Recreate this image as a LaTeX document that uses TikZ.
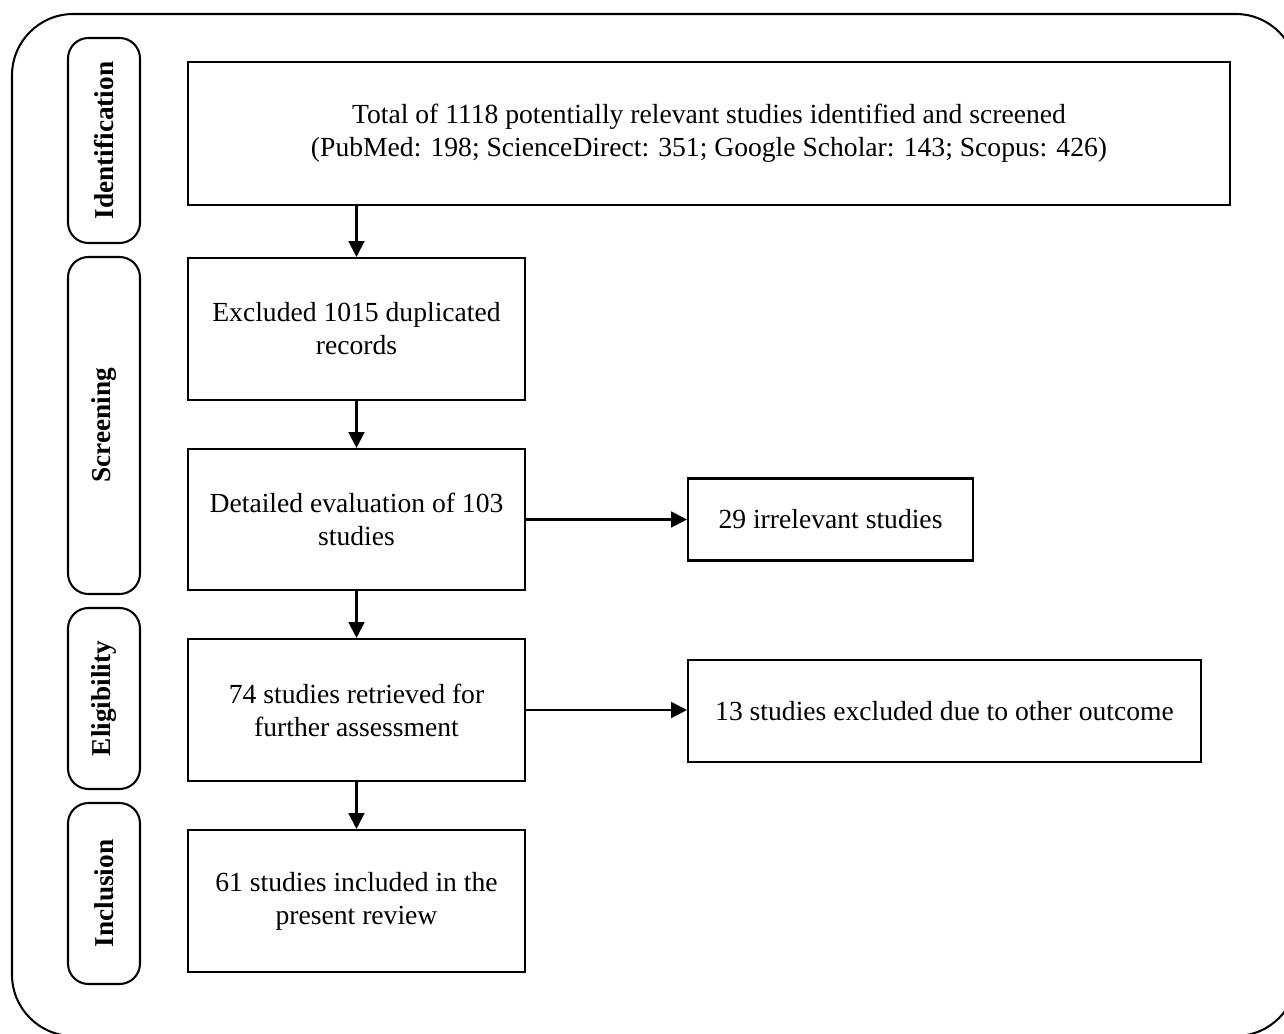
\documentclass[tikz,border=0pt]{standalone}
\usepackage{fontspec}
\setmainfont{Liberation Serif}
\usepackage{tikz}
\usetikzlibrary{arrows.meta}

\newcommand{\pxl}{0.44pt}

\tikzset{
	box/.style={draw, line width=0.9pt, align=center, inner sep=0pt},
	stage/.style={draw, line width=0.9pt, rounded corners=9pt, rotate=90,
		minimum height={72*\pxl}, inner sep=0pt, font=\fontsize{12}{14.5}\selectfont\bfseries},
	arr/.style={line width=0.9pt, -{Triangle[length=7pt,width=7pt]}}
}

\begin{document}
\begin{tikzpicture}[x=\pxl, y=-\pxl, font=\fontsize{12.15}{14.5}\selectfont]
	\clip (0,0) rectangle (1284,1034);
	\draw[line width=0.9pt, rounded corners=27pt] (12,14) rectangle (1297,1036);

	\node[stage, minimum width={205*\pxl}] (sid) at (104,140.5) {Identification};
	\node[stage, minimum width={337*\pxl}] (sscr) at (104,425.5) {Screening};
	\node[stage, minimum width={181*\pxl}] (selig) at (104,698.5) {Eligibility};
	\node[stage, minimum width={181*\pxl}] (sincl) at (104,893.5) {Inclusion};

	\node[box, minimum width={1042*\pxl}, minimum height={143*\pxl}] (total) at (709,133.5)
		{Total of 1118 potentially relevant studies identified and screened\\
		(PubMed: 198; ScienceDirect: 351; Google Scholar: 143; Scopus: 426)};
	\node[box, minimum width={337*\pxl}, minimum height={142*\pxl}] (dup) at (356.5,329)
		{Excluded 1015 duplicated\\records};
	\node[box, minimum width={337*\pxl}, minimum height={141*\pxl}] (detail) at (356.5,519.5)
		{Detailed evaluation of 103\\studies};
	\node[box, minimum width={337*\pxl}, minimum height={142*\pxl}] (retr) at (356.5,710)
		{74 studies retrieved for\\further assessment};
	\node[box, minimum width={337*\pxl}, minimum height={142*\pxl}] (incl) at (356.5,901)
		{61 studies included in the\\present review};
	\node[box, minimum width={285*\pxl}, minimum height={82*\pxl}] (irr) at (830.5,519.5)
		{29 irrelevant studies};
	\node[box, minimum width={513*\pxl}, minimum height={102*\pxl}] (other) at (944.5,711)
		{13 studies excluded due to other outcome};

	\draw[arr] (dup.north |- total.south) -- (dup.north);
	\draw[arr] (dup.south) -- (detail.north);
	\draw[arr] (detail.south) -- (retr.north);
	\draw[arr] (retr.south) -- (incl.north);
	\draw[arr] (detail.east) -- (irr.west);
	\draw[arr] (retr.east) -- (retr.east -| other.west);
\end{tikzpicture}
\end{document}
